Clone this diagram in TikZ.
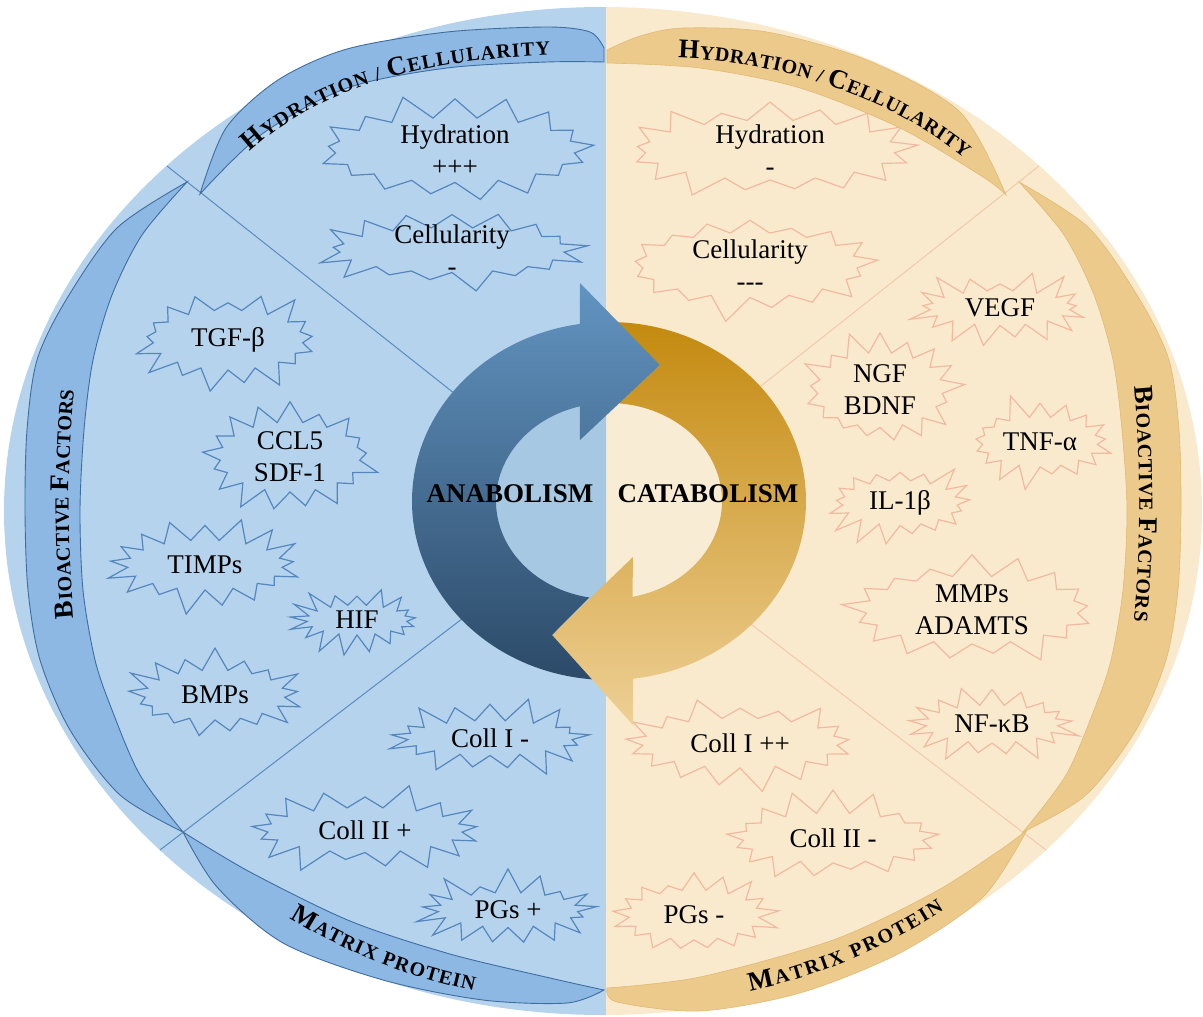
\documentclass[tikz,border=0pt]{standalone}
\usepackage{fontspec}
\setmainfont{Liberation Serif}
\usetikzlibrary{shapes.symbols,decorations.text}
\definecolor{bgLeft}{RGB}{182,211,237}
\definecolor{bgRight}{RGB}{249,234,206}
\definecolor{bandBlue}{RGB}{141,184,228}
\definecolor{bandBlueEdge}{RGB}{62,110,160}
\definecolor{bandGold}{RGB}{236,202,140}
\definecolor{bandGoldEdge}{RGB}{226,186,115}
\definecolor{starBlue}{RGB}{84,135,190}
\definecolor{starPeach}{RGB}{243,185,160}
\definecolor{lineBlue}{RGB}{90,140,192}
\definecolor{linePeach}{RGB}{243,200,170}
\definecolor{arrBlueTop}{RGB}{98,148,193}
\definecolor{arrBlueBot}{RGB}{44,74,104}
\definecolor{arrGoldTop}{RGB}{196,138,15}
\definecolor{arrGoldBot}{RGB}{238,208,150}
\definecolor{innerBlue}{RGB}{166,200,226}
\definecolor{innerGold}{RGB}{248,236,212}
\newcommand{\burstfont}{\fontsize{27}{32}\selectfont}
\newcommand{\bigsc}{\fontsize{27}{27}\selectfont\bfseries}
\newcommand{\smlsc}{\fontsize{20}{20}\selectfont\bfseries}
\newcommand{\metafont}{\fontsize{27}{27}\selectfont\bfseries}
\tikzset{burstL/.style={starburst,draw=starBlue,line width=1.2pt,starburst points=17,starburst point height=25pt,inner sep=0pt},
	 burstR/.style={burstL,draw=starPeach},
	 bandL/.style={fill=bandBlue,draw=bandBlueEdge,line width=0.9pt},
	 bandR/.style={fill=bandGold,draw=bandGoldEdge,line width=0.6pt},
	 every label/.style={align=center,font=\burstfont}
	 }

\begin{document}
\begin{tikzpicture}[x=1pt,y=-1pt] % anabolism / catabolism wheel
	\useasboundingbox (0,0) rectangle (1203,1017);
	\begin{scope}
	\clip (603,511) ellipse[x radius=599, y radius=504];
	\fill[bgLeft] (0,0) rectangle (606,1017);
	\fill[bgRight] (606,0) rectangle (1203,1017);
	\end{scope}
	% sector lines
	\coordinate (ctr) at (603,511);
	\coordinate (ul) at (167,166);
	\coordinate (ll) at (160,850);
	\coordinate (ur) at (1039,166);
	\coordinate (lr) at (1046,850);
	\draw[lineBlue,line width=1pt] (ctr) -- (ul);
	\draw[lineBlue,line width=1pt] (ctr) -- (ll);
	\draw[linePeach,line width=1pt] (ctr) -- (ur);
	\draw[linePeach,line width=1pt] (ctr) -- (lr);
	% bursts, left half
	\node[burstL,minimum width=290pt,minimum height=115pt,random starburst=11,label=center:{Hydration\\+++}] (hydL) at (455,150) {};
	\node[burstL,minimum width=275pt,minimum height=95pt,random starburst=12,label=center:{Cellularity\\-}] (celL) at (452,250) {};
	\node[burstL,minimum width=200pt,minimum height=110pt,random starburst=13,label=center:{TGF-β}] (tgf) at (228,340) {};
	\node[burstL,minimum width=190pt,minimum height=120pt,random starburst=14,label=center:{CCL5\\SDF-1}] (ccl) at (290,457) {};
	\node[burstL,minimum width=205pt,minimum height=100pt,random starburst=15,label=center:{TIMPs}] (timp) at (205,565) {};
	\node[burstL,minimum width=150pt,minimum height=80pt,random starburst=16,label=center:{HIF}] (hif) at (357,620) {};
	\node[burstL,minimum width=190pt,minimum height=100pt,random starburst=17,label=center:{BMPs}] (bmp) at (215,695) {};
	\node[burstL,minimum width=215pt,minimum height=85pt,random starburst=18,label=center:{Coll I -}] (colaL) at (490,738) {};
	\node[burstL,minimum width=245pt,minimum height=95pt,random starburst=19,label=center:{Coll II +}] (colbL) at (365,830) {};
	\node[burstL,minimum width=190pt,minimum height=85pt,random starburst=20,label=center:{PGs +}] (pgL) at (508,910) {};
	% bursts, right half
	\node[burstR,minimum width=300pt,minimum height=110pt,random starburst=21,label=center:{Hydration\\-}] (hydR) at (770,150) {};
	\node[burstR,minimum width=265pt,minimum height=115pt,random starburst=22,label=center:{Cellularity\\{-}{-}{-}}] (celR) at (750,265) {};
	\node[burstR,minimum width=190pt,minimum height=85pt,random starburst=23,label=center:{VEGF}] (vegf) at (1000,308) {};
	\node[burstR,minimum width=175pt,minimum height=125pt,random starburst=24,label=center:{NGF\\BDNF}] (ngf) at (880,390) {};
	\node[burstR,minimum width=165pt,minimum height=100pt,random starburst=25,label=center:{TNF-α}] (tnf) at (1040,442) {};
	\node[burstR,minimum width=165pt,minimum height=95pt,random starburst=26,label=center:{IL-1β}] (il) at (900,503) {};
	\node[burstR,minimum width=262pt,minimum height=118pt,random starburst=27,label=center:{MMPs\\ADAMTS}] (mmp) at (972,610) {};
	\node[burstR,minimum width=182pt,minimum height=88pt,random starburst=28,label=center:{NF-κB}] (nfkb) at (992,724) {};
	\node[burstR,minimum width=245pt,minimum height=100pt,random starburst=29,label=center:{Coll I ++}] (colaR) at (740,743) {};
	\node[burstR,minimum width=230pt,minimum height=100pt,random starburst=30,label=center:{Coll II -}] (colbR) at (833,838) {};
	\node[burstR,minimum width=180pt,minimum height=100pt,random starburst=31,label=center:{PGs -}] (pgR) at (694,915) {};
	% outer bands
	\filldraw[bandL] plot[smooth] coordinates {(200,194) (226,128) (278,80) (347,49) (447,32) (547,27) (590,32) (604,48)} -- (604,62)
		-- plot[smooth] coordinates {(604,62) (547,62) (447,68) (347,88) (262,134) (200,194)} -- cycle;
	\filldraw[bandR] plot[smooth] coordinates {(607,50) (640,36) (683,28) (767,32) (867,60) (960,112) (1006,195)}
		-- plot[smooth] coordinates {(1006,195) (983,177) (900,128) (800,88) (700,68) (607,63)} -- cycle;
	\filldraw[bandL] plot[smooth] coordinates {(187,182) (117,228) (66,300) (37,360) (27,430) (25,510) (28,590) (40,660) (70,730) (120,795) (183,832)}
		-- plot[smooth] coordinates {(183,832) (140,775) (112,710) (95,660) (83,590) (80,510) (84,430) (93,360) (112,295) (142,235) (187,182)} -- cycle;
	\filldraw[bandR] plot[smooth] coordinates {(1019,182) (1089,228) (1140,300) (1169,360) (1179,430) (1181,510) (1178,590) (1166,660) (1136,730) (1086,795) (1023,832)}
		-- plot[smooth] coordinates {(1023,832) (1066,775) (1094,710) (1111,660) (1123,590) (1127,510) (1122,430) (1113,360) (1094,295) (1064,235) (1019,182)} -- cycle;
	\filldraw[bandL] plot[smooth] coordinates {(183,832) (217,887) (283,943) (383,980) (483,1000) (567,1003) (604,990)}
		-- plot[smooth] coordinates {(604,990) (550,978) (450,954) (350,921) (250,872) (183,832)} -- cycle;
	\filldraw[bandR] plot[smooth] coordinates {(607,988) (700,977) (833,940) (933,893) (1000,850) (1027,830)}
		-- plot[smooth] coordinates {(1027,830) (983,897) (900,953) (800,993) (700,1011) (617,1002) (607,988)} -- cycle;
	% band titles
	\path[decorate,decoration={text along path,text align={fit to path},
		text={|\bigsc|H|\smlsc|YDRATION / |\bigsc|C|\smlsc|ELLULARITY}}] (250,152) .. controls (320,88) and (420,60) .. (550,55);
	\path[decorate,decoration={text along path,text align={fit to path},
		text={|\bigsc|H|\smlsc|YDRATION / |\bigsc|C|\smlsc|ELLULARITY}}] (678,58) .. controls (790,62) and (895,102) .. (964,158);
	\path[decorate,decoration={text along path,text align={fit to path},
		text={|\bigsc|B|\smlsc|IOACTIVE |\bigsc|F|\smlsc|ACTORS}}] (74,618) .. controls (67,545) and (67,465) .. (74,390);
	\path[decorate,decoration={text along path,text align={fit to path},
		text={|\bigsc|B|\smlsc|IOACTIVE |\bigsc|F|\smlsc|ACTORS}}] (1134,386) .. controls (1141,465) and (1141,545) .. (1134,621);
	\path[decorate,decoration={text along path,text align={fit to path},
		text={|\bigsc|M|\smlsc|ATRIX PROTEIN}}] (290,918) .. controls (345,952) and (405,976) .. (474,991);
	\path[decorate,decoration={text along path,text align={fit to path},
		text={|\bigsc|M|\smlsc|ATRIX PROTEIN}}] (750,991) .. controls (820,976) and (882,950) .. (944,910);
	% centre cycle
	\coordinate (ring) at (609,501);
	\fill[innerGold] (ring) ellipse[x radius=115, y radius=100];
	\begin{scope}
	\clip (0,0) rectangle (606,1017);
	\fill[innerBlue] (ring) ellipse[x radius=115, y radius=100];
	\end{scope}
	\shade[top color=arrGoldTop,bottom color=arrGoldBot] ([shift={(ring)}]-88:197 and 179) arc[start angle=-88,end angle=83,x radius=197,y radius=179]
		-- (633,725) -- (552,635) -- (633,557) -- ([shift={(ring)}]78:113 and 98) arc[start angle=78,end angle=-85,x radius=113,y radius=98] -- (660,365) -- cycle;
	\shade[top color=arrBlueTop,bottom color=arrBlueBot] ([shift={(ring)}]95:197 and 179) arc[start angle=95,end angle=261.5,x radius=197,y radius=179]
		-- (580,283) -- (660,365) -- (580,440) -- ([shift={(ring)}]255:113 and 98) arc[start angle=255,end angle=100,x radius=113,y radius=98] -- (552,635) -- cycle;
	\node[font=\metafont] (ana) at (510,494) {ANABOLISM};
	\node[font=\metafont] (cata) at (708,494) {CATABOLISM};
\end{tikzpicture}
\end{document}
